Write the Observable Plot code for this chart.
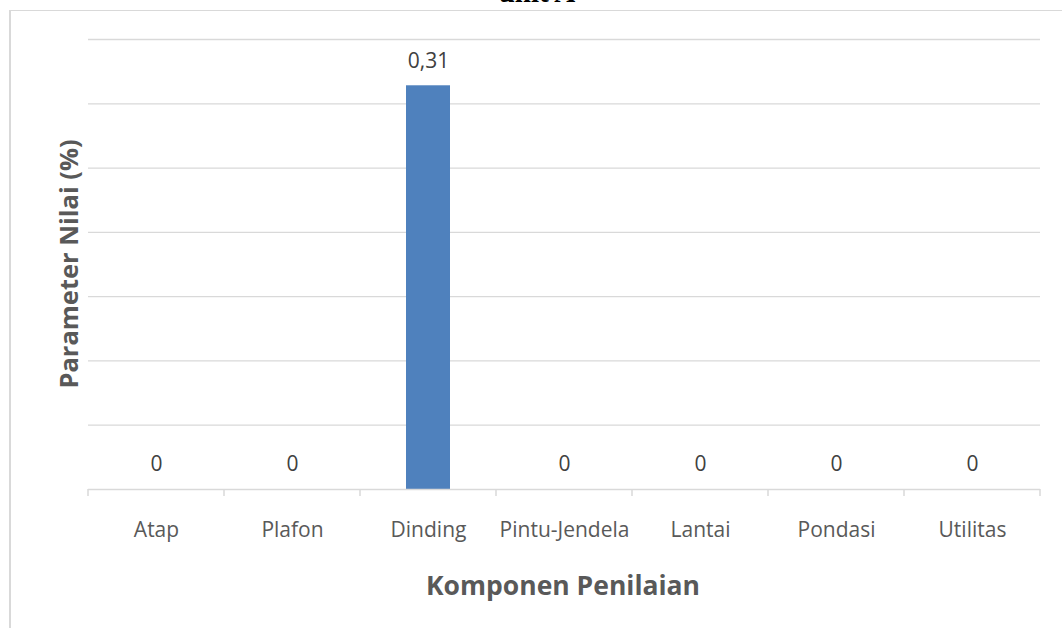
<!DOCTYPE html>
<html>
<head>
<meta charset="utf-8">
<script src="https://cdn.jsdelivr.net/npm/d3@7"></script>
<script src="https://cdn.jsdelivr.net/npm/@observablehq/plot@0.6"></script>
<style>
  html, body { margin: 0; padding: 0; background: #fff; }
  #wrap { position: relative; width: 1062px; height: 628px; overflow: hidden; font-family: "Open Sans", sans-serif; }
  #frame { position: absolute; left: 9px; top: 10px; width: 1100px; height: 700px; border-left: 2px solid #d9d9d9; border-top: 1px solid #d9d9d9; }
  #title { position: absolute; left: 437px; width: 200px; text-align: center; top: -23px; line-height: 30px; font-family: "Liberation Serif", serif; font-weight: bold; font-size: 29px; color: #000; }
  #ytitle { position: absolute; left: 68px; top: 264px; transform: translate(-50%, -50%) rotate(-90deg); white-space: nowrap; font-weight: bold; font-size: 25.5px; color: #595959; }
  #xtitle { position: absolute; left: 563px; top: 585px; transform: translate(-50%, -50%); white-space: nowrap; font-weight: bold; font-size: 26.5px; color: #595959; }
  #chart { position: absolute; left: 0; top: 0; }
</style>
</head>
<body>
<div id="wrap">
  <div id="frame"></div>
  <div id="title">unit A</div>
  <div id="chart"></div>
  <div id="ytitle">Parameter Nilai (%)</div>
  <div id="xtitle">Komponen Penilaian</div>
</div>
<script>
const categories = ["Atap", "Plafon", "Dinding", "Pintu-Jendela", "Lantai", "Pondasi", "Utilitas"];
const values = [0, 0, 0.314, 0, 0, 0, 0];
const gridTicks = [0.05, 0.10, 0.15, 0.20, 0.25, 0.30, 0.35];

const data = categories.map((c, i) => ({category: c, value: values[i]}));
const fmt = v => v === 0 ? "0" : v.toFixed(2).replace(".", ",");

function boundaryTicks(index, scales, values, dimensions, context) {
  const x = scales.x, y = scales.y;
  const p0 = x(categories[0]), p1 = x(categories[1]);
  const step = p1 - p0;
  const bw = typeof x.bandwidth === "function" ? x.bandwidth() : step * 0.32;
  const y0 = y(0);
  const xs = categories.map(c => x(c) + bw / 2 - step / 2);
  xs.push(x(categories[categories.length - 1]) + bw / 2 + step / 2);
  const g = d3.create("svg:g");
  g.selectAll("line").data(xs).join("line")
    .attr("x1", d => d).attr("x2", d => d)
    .attr("y1", y0).attr("y2", y0 + 7)
    .attr("stroke", "#d9d9d9").attr("stroke-width", 1.5);
  return g.node();
}

const chart = Plot.plot({
  width: 1062,
  height: 628,
  marginLeft: 88,
  marginRight: 22,
  marginTop: 39,
  marginBottom: 139,
  style: {fontFamily: "'Open Sans', sans-serif", fontSize: "21px", color: "#595959", background: "transparent"},
  x: {domain: categories, paddingInner: 0.68, paddingOuter: 0.34, label: null},
  y: {domain: [0, 0.35], label: null},
  marks: [
    Plot.gridY(gridTicks, {stroke: "#d9d9d9", strokeOpacity: 1, strokeWidth: 1.3}),
    Plot.barY(data, {x: "category", y: "value", fill: "#4f81bd"}),
    Plot.ruleY([0], {stroke: "#d9d9d9", strokeWidth: 1.5}),
    boundaryTicks,
    Plot.text(data, {x: "category", y: "value", text: d => fmt(d.value), dy: -25, fill: "#404040", fontSize: 21}),
    Plot.axisX({tickSize: 0, tickPadding: 33, fill: "#595959", fontSize: 21}),
    Plot.axisY({ticks: [], label: null})
  ]
});
document.getElementById("chart").appendChild(chart);
</script>
</body>
</html>
